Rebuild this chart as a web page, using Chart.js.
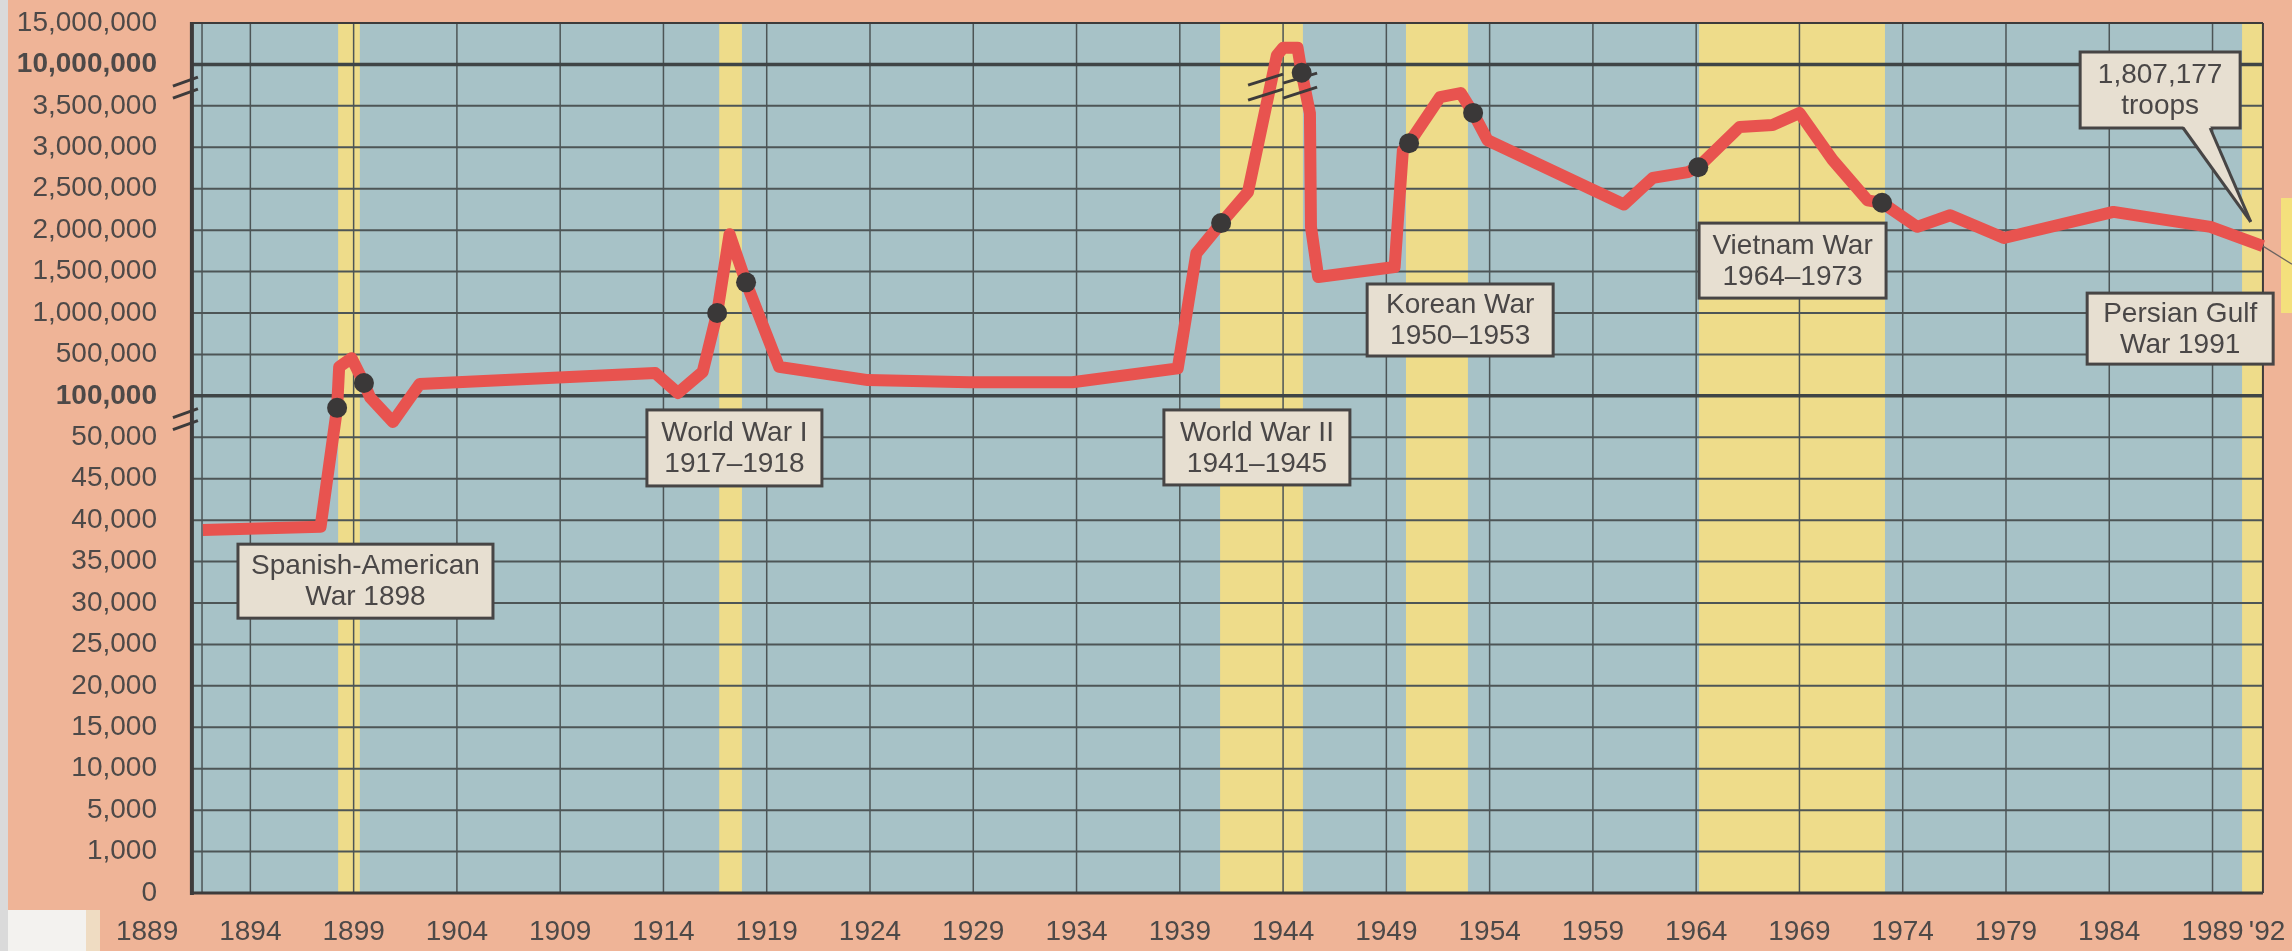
<!DOCTYPE html>
<html>
<head>
<meta charset="utf-8">
<title>U.S. military personnel 1889-1992</title>
<script src="https://cdn.jsdelivr.net/npm/chart.js@4.4.1/dist/chart.umd.min.js"></script>
<style>
  html, body { margin: 0; padding: 0; background: #efb497; }
  #chart { display: block; }
</style>
</head>
<body>
<canvas id="chart" width="2292" height="951"></canvas>
<script>
// troop line (year, troops)
const years = [1891.7, 1897.4, 1898.2, 1898.3, 1898.9, 1899.5, 1899.8, 1900.9, 1902.2, 1913.6,
               1914.7, 1915.9, 1916.6, 1917.2, 1918.0, 1919.6, 1923.9, 1928.8, 1933.8, 1938.9,
               1939.8, 1941.0, 1942.3, 1943.7, 1944.0, 1944.7, 1944.9, 1945.3, 1945.35, 1945.7,
               1949.4, 1949.8, 1950.1, 1951.6, 1952.6, 1953.2, 1953.9, 1960.5, 1961.9, 1963.6,
               1964.1, 1966.1, 1967.7, 1969.0, 1970.6, 1972.3, 1973.0, 1974.7, 1976.3, 1978.9,
               1984.2, 1988.9, 1991.44];
const troops = [38800, 39200, 85500, 380000, 464000, 224000, 98000, 68500, 215000, 320000,
                128000, 332000, 1000000, 1950000, 1370000, 380000, 252000, 232000, 232000, 365000,
                1720000, 2085000, 2460000, 11100000, 12000000, 12000000, 9000000, 3410000, 2040000, 1435000,
                1555000, 2965000, 3050000, 3605000, 3655000, 3415000, 3085000, 2310000, 2630000, 2700000,
                2760000, 3245000, 3270000, 3415000, 2850000, 2360000, 2330000, 2040000, 2180000, 1905000,
                2220000, 2040000, 1807177];
// points marked with a dark dot (start and end of each war)
const warDots = [2, 5, 12, 14, 21, 26, 32, 35, 40, 46];

// wars, shaded yellow
const warFrom = [1898.25, 1916.7, 1940.95, 1949.95, 1964.14, 1990.43];
const warTo   = [1899.3, 1917.8, 1944.96, 1952.95, 1973.14, 1991.44];

// axis ticks
const yTickValues = [0, 1000, 5000, 10000, 15000, 20000, 25000, 30000, 35000, 40000, 45000, 50000,
                     100000, 500000, 1000000, 1500000, 2000000, 2500000, 3000000, 3500000, 10000000, 15000000];
const boldTicks = [100000, 10000000];
const xTickYears = [1889, 1894, 1899, 1904, 1909, 1914, 1919, 1924, 1929, 1934, 1939, 1944, 1949,
                    1954, 1959, 1964, 1969, 1974, 1979, 1984, 1989, 1992];

// label boxes: top-left corner in (year, axis step), size in px
const labelBoxes = [
  {year: 1893.4,  step: 8.42,  w: 255, h: 74, lines: ["Spanish-American", "War 1898"]},
  {year: 1913.2,  step: 11.66, w: 175, h: 76, lines: ["World War I", "1917\u20131918"]},
  {year: 1938.23, step: 11.66, w: 186, h: 75, lines: ["World War II", "1941\u20131945"]},
  {year: 1948.07, step: 14.7,  w: 186, h: 72, lines: ["Korean War", "1950\u20131953"]},
  {year: 1964.14, step: 16.17, w: 187, h: 75, lines: ["Vietnam War", "1964\u20131973"]},
  {year: 1982.93, step: 14.48, w: 186, h: 71, lines: ["Persian Gulf", "War 1991"]}
];
const calloutBox = {year: 1982.59, step: 20.3, w: 160, h: 76, lines: ["1,807,177", "troops"], tipYear: 1990.85, tipStep: 16.2};

const plotFrom = 1891.17, plotTo = 1991.44;

const FONT = '"Liberation Sans", Arial, sans-serif';
const pink = '#efb497', blue = '#a7c2c7', yellow = '#eedc8a';
const red = '#e8534f', ink = '#474545', gridInk = '#4d5556', boxFill = '#e7dfd1';

// the value axis is drawn in "steps": one step per tick, with a break above 3,500,000
const scaleSteps = yTickValues.map((v, i) => [v, i]);
scaleSteps.splice(20, 0, [3750000, 19.5], [7500000, 19.5]);
function toStep(v) {
  for (let i = 1; i < scaleSteps.length; i++) {
    const [v0, p0] = scaleSteps[i - 1], [v1, p1] = scaleSteps[i];
    if (v <= v1) return p0 + (v - v0) / (v1 - v0) * (p1 - p0);
  }
  return scaleSteps[scaleSteps.length - 1][1];
}

const linePts = years.map((yr, i) => ({x: yr, y: toStep(troops[i])}));
const dotPts = warDots.map(i => ({x: years[i], y: toStep(troops[i])}));

function drawBox(ctx, x, y, w, h, lines) {
  ctx.fillStyle = boxFill;
  ctx.fillRect(x, y, w, h);
  ctx.lineWidth = 3;
  ctx.strokeStyle = ink;
  ctx.strokeRect(x, y, w, h);
  ctx.fillStyle = '#4a4747';
  ctx.font = '28px ' + FONT;
  ctx.textAlign = 'center';
  ctx.textBaseline = 'middle';
  const cy = y + h / 2 + 1;
  lines.forEach((t, i) => ctx.fillText(t, x + w / 2, cy + (i - (lines.length - 1) / 2) * 31));
}

function stroke(ctx, x1, y1, x2, y2) {
  ctx.beginPath(); ctx.moveTo(x1, y1); ctx.lineTo(x2, y2); ctx.stroke();
}

const backdrop = {
  id: 'backdrop',
  beforeDraw(chart) {
    const {ctx, chartArea: a, scales: {x}} = chart;
    const c = chart.canvas;
    ctx.save();
    ctx.fillStyle = pink;
    ctx.fillRect(0, 0, c.width, c.height);
    // scan edges
    ctx.fillStyle = '#dadada';
    ctx.fillRect(0, 0, 8, c.height);
    ctx.fillStyle = '#f3f2ef';
    ctx.fillRect(8, 910, 78, c.height - 910);
    ctx.fillStyle = '#efdcc2';
    ctx.fillRect(86, 910, 14, c.height - 910);
    ctx.fillStyle = '#f4e07c';
    ctx.fillRect(2281, 198, 11, 115);

    const left = x.getPixelForValue(plotFrom), right = x.getPixelForValue(plotTo);
    ctx.fillStyle = blue;
    ctx.fillRect(left, a.top, right - left, a.bottom - a.top);
    ctx.fillStyle = yellow;
    for (let i = 0; i < warFrom.length; i++) {
      const x1 = x.getPixelForValue(warFrom[i]), x2 = x.getPixelForValue(warTo[i]);
      ctx.fillRect(x1, a.top, x2 - x1, a.bottom - a.top);
    }
    ctx.restore();
  },
  beforeDatasetsDraw(chart) {
    const {ctx, chartArea: a, scales: {x, y}} = chart;
    const left = x.getPixelForValue(plotFrom), right = x.getPixelForValue(plotTo);
    ctx.save();
    ctx.strokeStyle = gridInk;
    ctx.lineWidth = 1.5;
    xTickYears.forEach(yr => {
      if (yr <= plotFrom || yr >= plotTo) return;
      const px = x.getPixelForValue(yr);
      stroke(ctx, px, a.top, px, a.bottom);
    });
    // thin rule just inside the axis
    const rule = x.getPixelForValue(1891.66);
    stroke(ctx, rule, a.top, rule, a.bottom);
    yTickValues.forEach((v, i) => {
      const py = y.getPixelForValue(i);
      const heavy = boldTicks.includes(v);
      ctx.lineWidth = heavy ? 3.5 : 2;
      ctx.strokeStyle = heavy ? '#3f4546' : gridInk;
      stroke(ctx, left, py, right, py);
    });
    // frame
    ctx.strokeStyle = '#3d3b3b';
    ctx.lineWidth = 4;
    stroke(ctx, left, a.top - 1, left, a.bottom + 2);
    ctx.lineWidth = 3;
    stroke(ctx, left, a.bottom, right, a.bottom);
    ctx.lineWidth = 2;
    stroke(ctx, right, a.top, right, a.bottom);
    stroke(ctx, left, a.top, right, a.top);
    ctx.restore();
  },
  afterDatasetDraw(chart, args) {
    if (args.index !== 1) return;
    const {ctx, scales: {x, y}} = chart;
    ctx.save();
    ctx.strokeStyle = '#3d3b3b';
    ctx.lineWidth = 3;
    // axis breaks on the value axis
    const ax = x.getPixelForValue(plotFrom);
    [19.5, 11.5].forEach(s => {
      const py = y.getPixelForValue(s);
      stroke(ctx, ax - 19, py + 1, ax + 6, py - 8);
      stroke(ctx, ax - 19, py + 13, ax + 6, py + 4);
    });
    // break on the WWII peak
    const bx = x.getPixelForValue(1944.0), by = y.getPixelForValue(19.5);
    stroke(ctx, bx - 35, by, bx, by - 11);
    stroke(ctx, bx - 35, by + 15, bx, by + 4);
    stroke(ctx, bx, by - 2, bx + 34, by - 12);
    stroke(ctx, bx, by + 13, bx + 34, by + 2);
    ctx.restore();
  },
  afterDraw(chart) {
    const {ctx, scales: {x, y}} = chart;
    ctx.save();
    labelBoxes.forEach(b => drawBox(ctx, x.getPixelForValue(b.year), y.getPixelForValue(b.step), b.w, b.h, b.lines));
    // callout with pointer
    const cb = calloutBox;
    const bx = x.getPixelForValue(cb.year), by = y.getPixelForValue(cb.step);
    drawBox(ctx, bx, by, cb.w, cb.h, cb.lines);
    const tx = x.getPixelForValue(cb.tipYear), ty = y.getPixelForValue(cb.tipStep);
    const b1 = bx + 103, b2 = bx + 130, bb = by + cb.h;
    ctx.fillStyle = boxFill;
    ctx.beginPath(); ctx.moveTo(b1, bb - 2); ctx.lineTo(tx, ty); ctx.lineTo(b2, bb - 2); ctx.closePath(); ctx.fill();
    ctx.strokeStyle = ink; ctx.lineWidth = 3;
    stroke(ctx, b1, bb, tx, ty);
    stroke(ctx, b2, bb, tx, ty);
    // thin leader running off the right edge
    ctx.lineWidth = 1.2; ctx.strokeStyle = '#6b6460';
    const ex = x.getPixelForValue(plotTo), ey = y.getPixelForValue(toStep(troops[troops.length - 1]));
    stroke(ctx, ex, ey, 2292, ey + 18);
    ctx.restore();
  }
};

new Chart(document.getElementById('chart'), {
  type: 'line',
  data: {
    datasets: [
      {type: 'scatter', data: dotPts, pointRadius: 10, pointHoverRadius: 10, backgroundColor: '#3a3838', borderWidth: 0, order: 0},
      {data: linePts, borderColor: red, borderWidth: 12, pointRadius: 0, tension: 0,
       borderJoinStyle: 'round', borderCapStyle: 'butt', fill: false, order: 1}
    ]
  },
  options: {
    responsive: false,
    animation: false,
    devicePixelRatio: 1,
    layout: {padding: {top: 23, right: 17.5, left: 0, bottom: 0}},
    plugins: {legend: {display: false}, tooltip: {enabled: false}},
    scales: {
      x: {
        type: 'linear', min: 1889.48, max: 1992,
        // the printed '92 sits at the right edge of the plot
        afterBuildTicks: s => { s.ticks = xTickYears.map(v => ({value: Math.min(v, plotTo + 0.2)})); },
        afterFit: s => { s.height = 58; s.paddingLeft = 0; s.paddingRight = 0; },
        grid: {display: false, drawTicks: false},
        border: {display: false},
        ticks: {
          autoSkip: false, maxRotation: 0, padding: 22, color: '#4d4948',
          font: {family: FONT, size: 28},
          callback: (v, i) => i === xTickYears.length - 1 ? "'92" : String(xTickYears[i])
        }
      },
      y: {
        type: 'linear', min: 0, max: 21,
        afterBuildTicks: s => { s.ticks = yTickValues.map((v, i) => ({value: i})); },
        afterFit: s => { s.width = 157; s.paddingTop = 0; s.paddingBottom = 0; },
        grid: {display: false, drawTicks: false},
        border: {display: false},
        ticks: {
          autoSkip: false, padding: 0, color: '#4d4948',
          font: c => ({family: FONT, size: 28, weight: c.tick && boldTicks.includes(yTickValues[c.tick.value]) ? 'bold' : 'normal'}),
          callback: v => yTickValues[v].toLocaleString('en-US')
        }
      }
    }
  },
  plugins: [backdrop]
});
</script>
</body>
</html>
